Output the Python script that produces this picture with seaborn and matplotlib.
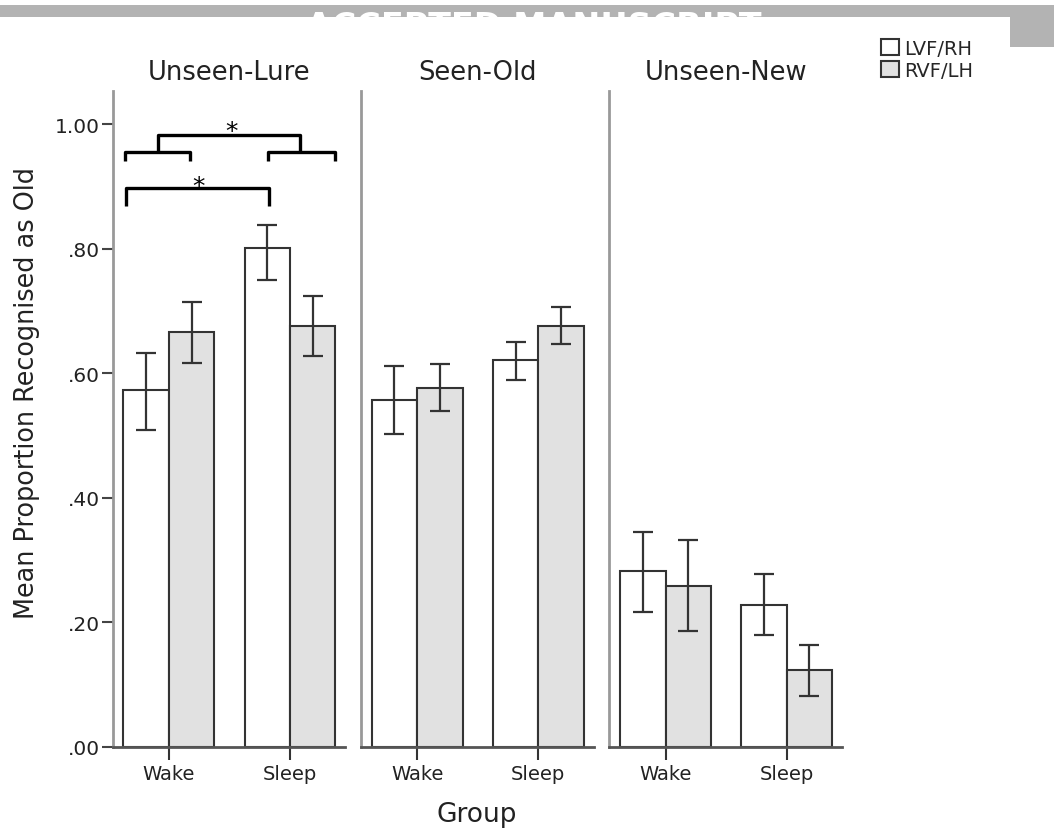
import pandas as pd
import matplotlib
matplotlib.use('Agg')
import matplotlib.pyplot as plt
import seaborn as sns
from matplotlib.patches import Patch, Rectangle

sns.set_theme(style='ticks')
plt.rcParams['font.family'] = ['DejaVu Sans']

conditions = ['Unseen-Lure', 'Seen-Old', 'Unseen-New']
groups = ['Wake', 'Sleep']
fields = ['LVF/RH', 'RVF/LH']
colors = ['#ffffff', '#e1e1e1']

# order in each list: Wake LVF, Wake RVF, Sleep LVF, Sleep RVF
lure_mean = [0.573, 0.666, 0.801, 0.676]
lure_lo = [0.509, 0.617, 0.750, 0.627]
lure_hi = [0.633, 0.714, 0.838, 0.724]

old_mean = [0.557, 0.576, 0.621, 0.676]
old_lo = [0.502, 0.539, 0.589, 0.647]
old_hi = [0.612, 0.614, 0.650, 0.706]

new_mean = [0.282, 0.259, 0.228, 0.123]
new_lo = [0.216, 0.187, 0.179, 0.082]
new_hi = [0.345, 0.332, 0.278, 0.164]

yticks = [0.0, 0.2, 0.4, 0.6, 0.8, 1.0]
ytick_labels = ['.00', '.20', '.40', '.60', '.80', '1.00']

rows = []
for cond, m, lo, hi in zip(conditions,
                           [lure_mean, old_mean, new_mean],
                           [lure_lo, old_lo, new_lo],
                           [lure_hi, old_hi, new_hi]):
    i = 0
    for g in groups:
        for f in fields:
            rows.append({'condition': cond, 'group': g, 'field': f,
                         'mean': m[i], 'lo': lo[i], 'hi': hi[i]})
            i += 1
df = pd.DataFrame(rows)

W, H = 1054, 829
fig, axes = plt.subplots(1, 3, figsize=(W / 100, H / 100), dpi=100, sharey=True)
fig.subplots_adjust(left=112.5 / W, right=842 / W, bottom=81 / H, top=1 - 92 / H,
                    wspace=0.067)

edge = '#333333'
for k, (ax, cond) in enumerate(zip(axes, conditions)):
    sub = df[df['condition'] == cond]
    sns.barplot(data=sub, x='group', y='mean', hue='field', order=groups,
                hue_order=fields, palette=colors, edgecolor=edge, linewidth=1.5,
                width=0.75, errorbar=None, legend=False, ax=ax)
    for f, cont in zip(fields, ax.containers):
        for g, bar in zip(groups, cont):
            r = sub[(sub['group'] == g) & (sub['field'] == f)].iloc[0]
            x = bar.get_x() + bar.get_width() / 2
            ax.errorbar([x], [r['mean']],
                        yerr=[[r['mean'] - r['lo']], [r['hi'] - r['mean']]],
                        fmt='none', ecolor=edge, elinewidth=1.6, capsize=7,
                        capthick=1.6, zorder=5)
    ax.set_xlim(-0.465, 1.457)
    ax.set_ylim(0, 1.053)
    ax.set_title(cond, fontsize=18.5, pad=9, color='#222222')
    ax.set_xlabel('')
    ax.set_ylabel('')
    for s in ['top', 'right']:
        ax.spines[s].set_visible(False)
    ax.spines['left'].set_color('#999999')
    ax.spines['left'].set_linewidth(2)
    ax.spines['bottom'].set_color('#555555')
    ax.spines['bottom'].set_linewidth(2)
    ax.tick_params(axis='x', length=9, width=1.5, color='#333333', pad=3,
                   labelsize=14, labelcolor='#222222')
    ax.set_yticks(yticks)
    if k == 0:
        ax.set_yticklabels(ytick_labels)
        ax.tick_params(axis='y', length=8, width=1.5, color='#444444', pad=1,
                       labelsize=14.5, labelcolor='#222222')
    else:
        ax.tick_params(axis='y', length=0, labelleft=False)

# significance brackets on the first panel
ax = axes[0]
bk = dict(color='black', lw=2.4, solid_capstyle='butt', clip_on=False)
ax.plot([-0.088, -0.088, 1.086, 1.086], [0.955, 0.982, 0.982, 0.955], **bk)
ax.plot([-0.362, -0.362, 0.179, 0.179], [0.941, 0.955, 0.955, 0.941], **bk)
ax.plot([0.823, 0.823, 1.374, 1.374], [0.941, 0.955, 0.955, 0.941], **bk)
ax.plot([-0.354, -0.354, 0.826, 0.826], [0.868, 0.897, 0.897, 0.868], **bk)
ax.text(0.521, 0.977, '*', ha='center', va='baseline', fontsize=18, color='black')
ax.text(0.249, 0.890, '*', ha='center', va='baseline', fontsize=18, color='black')

fig.text(27 / W, 0.5265, 'Mean Proportion Recognised as Old', rotation=90,
         ha='center', va='center', fontsize=18.4, color='#222222')
fig.text(477 / W, 1 - 815 / H, 'Group', ha='center', va='center',
         fontsize=19, color='#222222')

handles = [Patch(facecolor=c, edgecolor=edge, linewidth=1.5) for c in colors]
fig.legend(handles, fields, loc='upper left',
           bbox_to_anchor=(881 / W, 1 - 40 / H), frameon=False, fontsize=14,
           handlelength=0.9, handleheight=0.9, handletextpad=0.3,
           labelspacing=0.15, borderpad=0, borderaxespad=0)

# clipped "accepted manuscript" banner
fig.patches.append(Rectangle((0, 1 - 18.3 / H), 1, 12.3 / H, linewidth=0,
                             transform=fig.transFigure, facecolor='#b3b3b3', zorder=2))
fig.patches.append(Rectangle((1010 / W, 1 - 48.3 / H), 44 / W, 30.5 / H, linewidth=0,
                             transform=fig.transFigure, facecolor='#b3b3b3', zorder=2))
fig.text(533.5 / W, 1 - 36.7 / H, 'ACCEPTED MANUSCRIPT', ha='center',
         va='baseline', fontsize=24, fontweight='bold', color='white', zorder=3)
fig.patches.append(Rectangle((0, 1 - 40 / H), 1010 / W, 21.7 / H, linewidth=0,
                             transform=fig.transFigure, facecolor='white', zorder=4))

fig.savefig('out.png', dpi=100)
